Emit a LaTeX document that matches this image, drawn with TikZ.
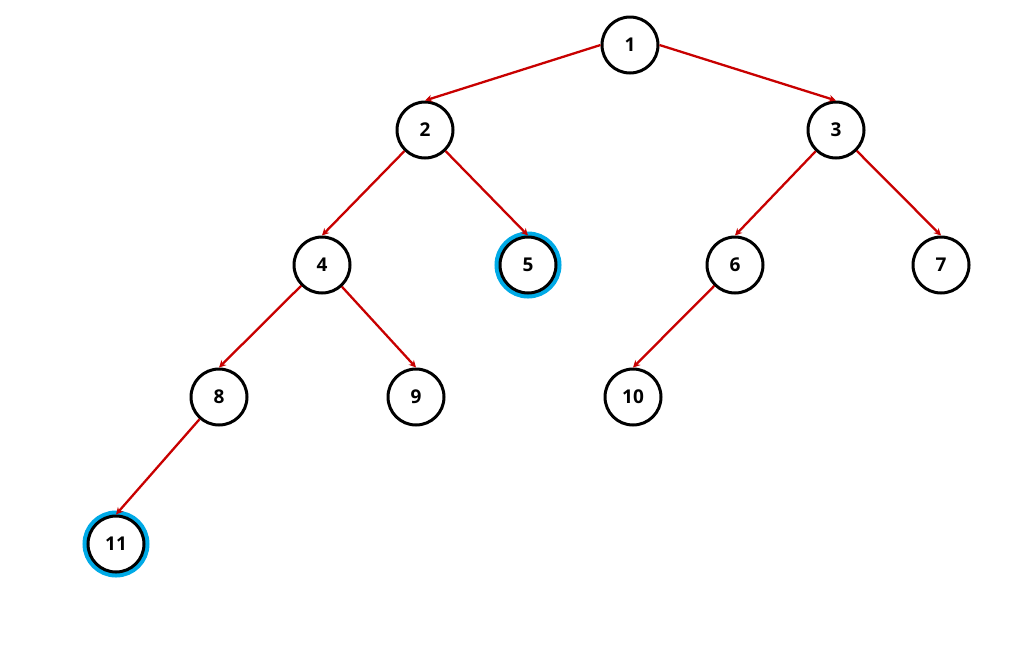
\documentclass[tikz,border=0pt]{standalone}
\usepackage{fontspec}
\setmainfont{Open Sans}
\usetikzlibrary{arrows.meta}
\definecolor{edgered}{RGB}{200,0,0}
\definecolor{ringblue}{RGB}{0,170,230}
\tikzset{
  tn/.style={circle, draw=black, line width=3pt, fill=white, minimum size=56pt, inner sep=0pt, font=\fontsize{19}{22}\selectfont\bfseries},
  hl/.style={tn, preaction={draw=ringblue, line width=11pt}},
  ed/.style={draw=edgered, line width=2.3pt, -{Stealth[length=7pt,width=7pt]}}
}
\begin{document}
\begin{tikzpicture}[x=1pt,y=-1pt]
\useasboundingbox (0,0) rectangle (1036,649);
\node[tn] (n1) at (630,45) {1};
\node[tn] (n2) at (425,130) {2};
\node[tn] (n3) at (836,130) {3};
\node[tn] (n4) at (322,265) {4};
\node[hl] (n5) at (528,265) {5};
\node[tn] (n6) at (735,265) {6};
\node[tn] (n7) at (941,265) {7};
\node[tn] (n8) at (219,397) {8};
\node[tn] (n9) at (416,397) {9};
\node[tn] (n10) at (633,397) {10};
\node[hl] (n11) at (116,544) {11};
\draw[ed] (n1.west) -- (n2.north);
\draw[ed] (n1.east) -- (n3.north);
\draw[ed] (n2) -- (n4.north);
\draw[ed] (n2) -- (n5.north);
\draw[ed] (n3) -- (n6.north);
\draw[ed] (n3) -- (n7.north);
\draw[ed] (n4) -- (n8.north);
\draw[ed] (n4) -- (n9.north);
\draw[ed] (n6) -- (n10.north);
\draw[ed] (n8) -- (n11.north);
\end{tikzpicture}
\end{document}
